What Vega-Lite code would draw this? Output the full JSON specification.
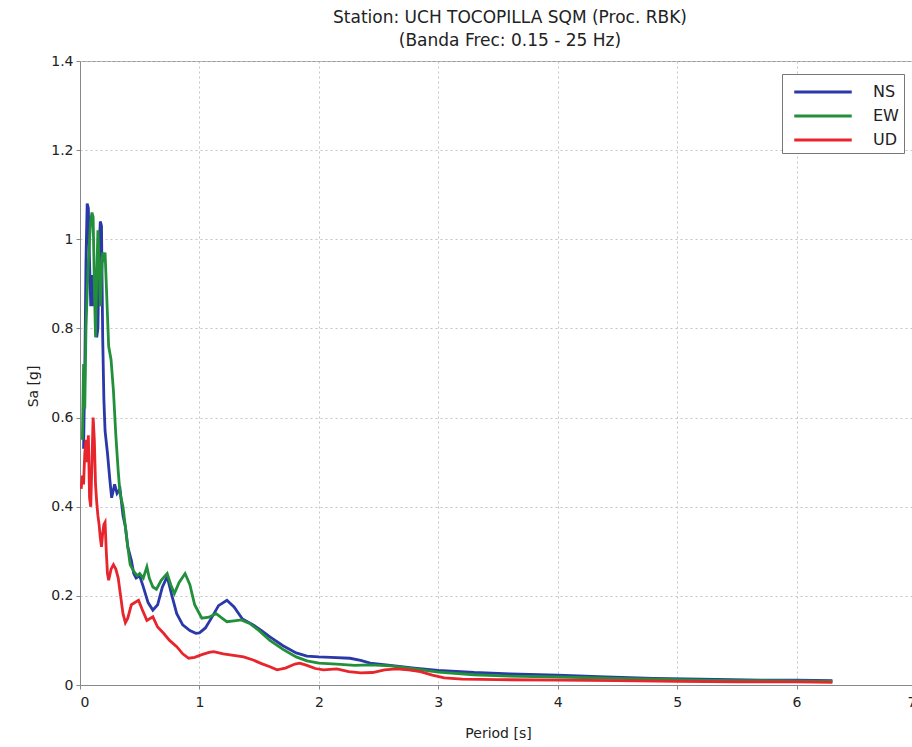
{
  "$schema": "https://vega.github.io/schema/vega-lite/v6.json",
  "width": 836,
  "height": 624,
  "autosize": {"type": "none"},
  "padding": {"left": 80, "top": 61, "right": 0, "bottom": 62},
  "background": "white",
  "title": {
    "text": ["Station: UCH TOCOPILLA SQM (Proc. RBK)", "(Banda Frec: 0.15 - 25 Hz)"],
    "font": "DejaVu Sans",
    "fontSize": 17,
    "fontWeight": "normal",
    "color": "#222",
    "anchor": "middle",
    "frame": "group",
    "offset": 4,
    "lineHeight": 23,
    "dx": 12
  },
  "config": {
    "view": {"stroke": "#999", "strokeWidth": 1},
    "axis": {
      "labelFont": "DejaVu Sans",
      "labelFontSize": 14,
      "labelColor": "#222",
      "titleFont": "DejaVu Sans",
      "titleFontSize": 13,
      "titleFontWeight": "normal",
      "titleColor": "#222",
      "gridColor": "#c4c4c4",
      "gridDash": [2, 3],
      "gridWidth": 1,
      "domainColor": "#888",
      "tickColor": "#888",
      "tickSize": 4,
      "labelPadding": 4
    }
  },
  "data": {
    "values": [
      {"c": "NS", "T": 0.03, "Sa": 0.53},
      {"c": "NS", "T": 0.04, "Sa": 0.7},
      {"c": "NS", "T": 0.05, "Sa": 0.95},
      {"c": "NS", "T": 0.06, "Sa": 1.08},
      {"c": "NS", "T": 0.07, "Sa": 1.07},
      {"c": "NS", "T": 0.08, "Sa": 0.95},
      {"c": "NS", "T": 0.09, "Sa": 0.85},
      {"c": "NS", "T": 0.10, "Sa": 0.92},
      {"c": "NS", "T": 0.11, "Sa": 0.85},
      {"c": "NS", "T": 0.12, "Sa": 0.9},
      {"c": "NS", "T": 0.13, "Sa": 0.86},
      {"c": "NS", "T": 0.14, "Sa": 0.78},
      {"c": "NS", "T": 0.15, "Sa": 0.8},
      {"c": "NS", "T": 0.16, "Sa": 0.98},
      {"c": "NS", "T": 0.17, "Sa": 1.04},
      {"c": "NS", "T": 0.18, "Sa": 1.03},
      {"c": "NS", "T": 0.19, "Sa": 0.78},
      {"c": "NS", "T": 0.2, "Sa": 0.64},
      {"c": "NS", "T": 0.21, "Sa": 0.57},
      {"c": "NS", "T": 0.23, "Sa": 0.52},
      {"c": "NS", "T": 0.25, "Sa": 0.46},
      {"c": "NS", "T": 0.265, "Sa": 0.42},
      {"c": "NS", "T": 0.29, "Sa": 0.45},
      {"c": "NS", "T": 0.31, "Sa": 0.43},
      {"c": "NS", "T": 0.335, "Sa": 0.44},
      {"c": "NS", "T": 0.36, "Sa": 0.38},
      {"c": "NS", "T": 0.38, "Sa": 0.355},
      {"c": "NS", "T": 0.4, "Sa": 0.31},
      {"c": "NS", "T": 0.43, "Sa": 0.28},
      {"c": "NS", "T": 0.45, "Sa": 0.25},
      {"c": "NS", "T": 0.47, "Sa": 0.24},
      {"c": "NS", "T": 0.5, "Sa": 0.245},
      {"c": "NS", "T": 0.53, "Sa": 0.22},
      {"c": "NS", "T": 0.57, "Sa": 0.185},
      {"c": "NS", "T": 0.61, "Sa": 0.168},
      {"c": "NS", "T": 0.65, "Sa": 0.18},
      {"c": "NS", "T": 0.69, "Sa": 0.22},
      {"c": "NS", "T": 0.73, "Sa": 0.243},
      {"c": "NS", "T": 0.77, "Sa": 0.2},
      {"c": "NS", "T": 0.81, "Sa": 0.16},
      {"c": "NS", "T": 0.86, "Sa": 0.135},
      {"c": "NS", "T": 0.92, "Sa": 0.122},
      {"c": "NS", "T": 0.97, "Sa": 0.116},
      {"c": "NS", "T": 1.0, "Sa": 0.117},
      {"c": "NS", "T": 1.05, "Sa": 0.128},
      {"c": "NS", "T": 1.1, "Sa": 0.15},
      {"c": "NS", "T": 1.16, "Sa": 0.178},
      {"c": "NS", "T": 1.23, "Sa": 0.19},
      {"c": "NS", "T": 1.29, "Sa": 0.175},
      {"c": "NS", "T": 1.36, "Sa": 0.148},
      {"c": "NS", "T": 1.45, "Sa": 0.135},
      {"c": "NS", "T": 1.52, "Sa": 0.122},
      {"c": "NS", "T": 1.59, "Sa": 0.108},
      {"c": "NS", "T": 1.7, "Sa": 0.088},
      {"c": "NS", "T": 1.81, "Sa": 0.072},
      {"c": "NS", "T": 1.9, "Sa": 0.065},
      {"c": "NS", "T": 2.0, "Sa": 0.063},
      {"c": "NS", "T": 2.1, "Sa": 0.062},
      {"c": "NS", "T": 2.26, "Sa": 0.06},
      {"c": "NS", "T": 2.35, "Sa": 0.055},
      {"c": "NS", "T": 2.43, "Sa": 0.049},
      {"c": "NS", "T": 2.6, "Sa": 0.044},
      {"c": "NS", "T": 2.8, "Sa": 0.038},
      {"c": "NS", "T": 3.0, "Sa": 0.033},
      {"c": "NS", "T": 3.3, "Sa": 0.028},
      {"c": "NS", "T": 3.6, "Sa": 0.025},
      {"c": "NS", "T": 4.0, "Sa": 0.022},
      {"c": "NS", "T": 4.4, "Sa": 0.018},
      {"c": "NS", "T": 4.8, "Sa": 0.015},
      {"c": "NS", "T": 5.2, "Sa": 0.013},
      {"c": "NS", "T": 5.7, "Sa": 0.011},
      {"c": "NS", "T": 6.0, "Sa": 0.011},
      {"c": "NS", "T": 6.3, "Sa": 0.01},

      {"c": "EW", "T": 0.02, "Sa": 0.55},
      {"c": "EW", "T": 0.03, "Sa": 0.72},
      {"c": "EW", "T": 0.04, "Sa": 0.62},
      {"c": "EW", "T": 0.05, "Sa": 0.8},
      {"c": "EW", "T": 0.06, "Sa": 0.88},
      {"c": "EW", "T": 0.07, "Sa": 0.95},
      {"c": "EW", "T": 0.08, "Sa": 1.0},
      {"c": "EW", "T": 0.09, "Sa": 1.04},
      {"c": "EW", "T": 0.1, "Sa": 1.06},
      {"c": "EW", "T": 0.11, "Sa": 1.05},
      {"c": "EW", "T": 0.12, "Sa": 0.9},
      {"c": "EW", "T": 0.13, "Sa": 0.78},
      {"c": "EW", "T": 0.14, "Sa": 0.92},
      {"c": "EW", "T": 0.15, "Sa": 1.02},
      {"c": "EW", "T": 0.16, "Sa": 0.95},
      {"c": "EW", "T": 0.17, "Sa": 0.85},
      {"c": "EW", "T": 0.18, "Sa": 0.92},
      {"c": "EW", "T": 0.19, "Sa": 0.97},
      {"c": "EW", "T": 0.2, "Sa": 0.96},
      {"c": "EW", "T": 0.21, "Sa": 0.97},
      {"c": "EW", "T": 0.22, "Sa": 0.9},
      {"c": "EW", "T": 0.24, "Sa": 0.76},
      {"c": "EW", "T": 0.26, "Sa": 0.73},
      {"c": "EW", "T": 0.28, "Sa": 0.66},
      {"c": "EW", "T": 0.3, "Sa": 0.56},
      {"c": "EW", "T": 0.32, "Sa": 0.48},
      {"c": "EW", "T": 0.335, "Sa": 0.43},
      {"c": "EW", "T": 0.36, "Sa": 0.4},
      {"c": "EW", "T": 0.38, "Sa": 0.355},
      {"c": "EW", "T": 0.4, "Sa": 0.31},
      {"c": "EW", "T": 0.42, "Sa": 0.27},
      {"c": "EW", "T": 0.45, "Sa": 0.255},
      {"c": "EW", "T": 0.48, "Sa": 0.245},
      {"c": "EW", "T": 0.5, "Sa": 0.25},
      {"c": "EW", "T": 0.53, "Sa": 0.24},
      {"c": "EW", "T": 0.56, "Sa": 0.265},
      {"c": "EW", "T": 0.58, "Sa": 0.24},
      {"c": "EW", "T": 0.61, "Sa": 0.22},
      {"c": "EW", "T": 0.64, "Sa": 0.215},
      {"c": "EW", "T": 0.68, "Sa": 0.235},
      {"c": "EW", "T": 0.73, "Sa": 0.25},
      {"c": "EW", "T": 0.76, "Sa": 0.225},
      {"c": "EW", "T": 0.79, "Sa": 0.205},
      {"c": "EW", "T": 0.83, "Sa": 0.23},
      {"c": "EW", "T": 0.88, "Sa": 0.25},
      {"c": "EW", "T": 0.92, "Sa": 0.225},
      {"c": "EW", "T": 0.96, "Sa": 0.18},
      {"c": "EW", "T": 1.02, "Sa": 0.15},
      {"c": "EW", "T": 1.08, "Sa": 0.152},
      {"c": "EW", "T": 1.14, "Sa": 0.16},
      {"c": "EW", "T": 1.2, "Sa": 0.148},
      {"c": "EW", "T": 1.23, "Sa": 0.142},
      {"c": "EW", "T": 1.29, "Sa": 0.144},
      {"c": "EW", "T": 1.35, "Sa": 0.146},
      {"c": "EW", "T": 1.42, "Sa": 0.138},
      {"c": "EW", "T": 1.5, "Sa": 0.122},
      {"c": "EW", "T": 1.59, "Sa": 0.1},
      {"c": "EW", "T": 1.7, "Sa": 0.08},
      {"c": "EW", "T": 1.81, "Sa": 0.063},
      {"c": "EW", "T": 1.9, "Sa": 0.054},
      {"c": "EW", "T": 2.0, "Sa": 0.049},
      {"c": "EW", "T": 2.15, "Sa": 0.047},
      {"c": "EW", "T": 2.3, "Sa": 0.044},
      {"c": "EW", "T": 2.43, "Sa": 0.045},
      {"c": "EW", "T": 2.6, "Sa": 0.043},
      {"c": "EW", "T": 2.8, "Sa": 0.036},
      {"c": "EW", "T": 3.0, "Sa": 0.029},
      {"c": "EW", "T": 3.3, "Sa": 0.023},
      {"c": "EW", "T": 3.6, "Sa": 0.02},
      {"c": "EW", "T": 4.0, "Sa": 0.018},
      {"c": "EW", "T": 4.5, "Sa": 0.015},
      {"c": "EW", "T": 5.0, "Sa": 0.012},
      {"c": "EW", "T": 5.5, "Sa": 0.01},
      {"c": "EW", "T": 6.0, "Sa": 0.009},
      {"c": "EW", "T": 6.3, "Sa": 0.008},

      {"c": "UD", "T": 0.01, "Sa": 0.44},
      {"c": "UD", "T": 0.02, "Sa": 0.47},
      {"c": "UD", "T": 0.03, "Sa": 0.45},
      {"c": "UD", "T": 0.04, "Sa": 0.52},
      {"c": "UD", "T": 0.05, "Sa": 0.55},
      {"c": "UD", "T": 0.06, "Sa": 0.5},
      {"c": "UD", "T": 0.07, "Sa": 0.56},
      {"c": "UD", "T": 0.08, "Sa": 0.42},
      {"c": "UD", "T": 0.09, "Sa": 0.4},
      {"c": "UD", "T": 0.1, "Sa": 0.5},
      {"c": "UD", "T": 0.11, "Sa": 0.6},
      {"c": "UD", "T": 0.12, "Sa": 0.55},
      {"c": "UD", "T": 0.13, "Sa": 0.45},
      {"c": "UD", "T": 0.14, "Sa": 0.41},
      {"c": "UD", "T": 0.15, "Sa": 0.38},
      {"c": "UD", "T": 0.16, "Sa": 0.36},
      {"c": "UD", "T": 0.17, "Sa": 0.33},
      {"c": "UD", "T": 0.18, "Sa": 0.31},
      {"c": "UD", "T": 0.19, "Sa": 0.34},
      {"c": "UD", "T": 0.2, "Sa": 0.36},
      {"c": "UD", "T": 0.21, "Sa": 0.365},
      {"c": "UD", "T": 0.22, "Sa": 0.3},
      {"c": "UD", "T": 0.23, "Sa": 0.25},
      {"c": "UD", "T": 0.24, "Sa": 0.235},
      {"c": "UD", "T": 0.26, "Sa": 0.26},
      {"c": "UD", "T": 0.28, "Sa": 0.27},
      {"c": "UD", "T": 0.3, "Sa": 0.26},
      {"c": "UD", "T": 0.32, "Sa": 0.24},
      {"c": "UD", "T": 0.34, "Sa": 0.2},
      {"c": "UD", "T": 0.36, "Sa": 0.16},
      {"c": "UD", "T": 0.38, "Sa": 0.14},
      {"c": "UD", "T": 0.4, "Sa": 0.15},
      {"c": "UD", "T": 0.43, "Sa": 0.18},
      {"c": "UD", "T": 0.46, "Sa": 0.185},
      {"c": "UD", "T": 0.49, "Sa": 0.19},
      {"c": "UD", "T": 0.52, "Sa": 0.17},
      {"c": "UD", "T": 0.56, "Sa": 0.145},
      {"c": "UD", "T": 0.61, "Sa": 0.153},
      {"c": "UD", "T": 0.65, "Sa": 0.13},
      {"c": "UD", "T": 0.7, "Sa": 0.116},
      {"c": "UD", "T": 0.75, "Sa": 0.1},
      {"c": "UD", "T": 0.81, "Sa": 0.086},
      {"c": "UD", "T": 0.86, "Sa": 0.07},
      {"c": "UD", "T": 0.91, "Sa": 0.06},
      {"c": "UD", "T": 0.96, "Sa": 0.062},
      {"c": "UD", "T": 1.02, "Sa": 0.068},
      {"c": "UD", "T": 1.08, "Sa": 0.073},
      {"c": "UD", "T": 1.12, "Sa": 0.075},
      {"c": "UD", "T": 1.2, "Sa": 0.07},
      {"c": "UD", "T": 1.3, "Sa": 0.066},
      {"c": "UD", "T": 1.37, "Sa": 0.063},
      {"c": "UD", "T": 1.45, "Sa": 0.056},
      {"c": "UD", "T": 1.52, "Sa": 0.048},
      {"c": "UD", "T": 1.59, "Sa": 0.041},
      {"c": "UD", "T": 1.65, "Sa": 0.034},
      {"c": "UD", "T": 1.72, "Sa": 0.038},
      {"c": "UD", "T": 1.8, "Sa": 0.047},
      {"c": "UD", "T": 1.84, "Sa": 0.049},
      {"c": "UD", "T": 1.9, "Sa": 0.044},
      {"c": "UD", "T": 1.97, "Sa": 0.037},
      {"c": "UD", "T": 2.04, "Sa": 0.034},
      {"c": "UD", "T": 2.15, "Sa": 0.036},
      {"c": "UD", "T": 2.25, "Sa": 0.03},
      {"c": "UD", "T": 2.35, "Sa": 0.027},
      {"c": "UD", "T": 2.45, "Sa": 0.028},
      {"c": "UD", "T": 2.55, "Sa": 0.034},
      {"c": "UD", "T": 2.65, "Sa": 0.036},
      {"c": "UD", "T": 2.75, "Sa": 0.034},
      {"c": "UD", "T": 2.85, "Sa": 0.03},
      {"c": "UD", "T": 2.95, "Sa": 0.022},
      {"c": "UD", "T": 3.05, "Sa": 0.016},
      {"c": "UD", "T": 3.2, "Sa": 0.013},
      {"c": "UD", "T": 3.5, "Sa": 0.012},
      {"c": "UD", "T": 4.0, "Sa": 0.011},
      {"c": "UD", "T": 4.5, "Sa": 0.01},
      {"c": "UD", "T": 5.0, "Sa": 0.008},
      {"c": "UD", "T": 5.5, "Sa": 0.007},
      {"c": "UD", "T": 6.0, "Sa": 0.007},
      {"c": "UD", "T": 6.3, "Sa": 0.006}
    ]
  },
  "mark": {"type": "line", "strokeWidth": 2.8, "clip": true},
  "encoding": {
    "x": {
      "field": "T",
      "type": "quantitative",
      "scale": {"domain": [0, 7], "nice": false},
      "axis": {"title": "Period [s]", "values": [0, 1, 2, 3, 4, 5, 6, 7], "titlePadding": 17, "titleFontSize": 14, "labelPadding": 6}
    },
    "y": {
      "field": "Sa",
      "type": "quantitative",
      "scale": {"domain": [0, 1.4], "nice": false},
      "axis": {"title": "Sa [g]", "values": [0, 0.2, 0.4, 0.6, 0.8, 1, 1.2, 1.4], "format": "~g", "titlePadding": 10, "titleFontSize": 14, "labelPadding": 3, "titleY": 325}
    },
    "color": {
      "field": "c",
      "type": "nominal",
      "scale": {"domain": ["NS", "EW", "UD"], "range": ["#2a38a8", "#22903a", "#e8242c"]},
      "legend": {
        "title": null,
        "orient": "none",
        "legendX": 702,
        "legendY": 13,
        "symbolType": "M-2.5,0H2.5",
        "symbolSize": 529,
        "symbolStrokeWidth": 3,
        "symbolOffset": 23,
        "labelOffset": 37,
        "labelFont": "DejaVu Sans",
        "labelFontSize": 16,
        "labelColor": "#222",
        "padding": 5,
        "strokeColor": "#777",
        "fillColor": "white",
        "rowPadding": 3
      }
    },
    "order": {"field": "T", "type": "quantitative"}
  }
}
